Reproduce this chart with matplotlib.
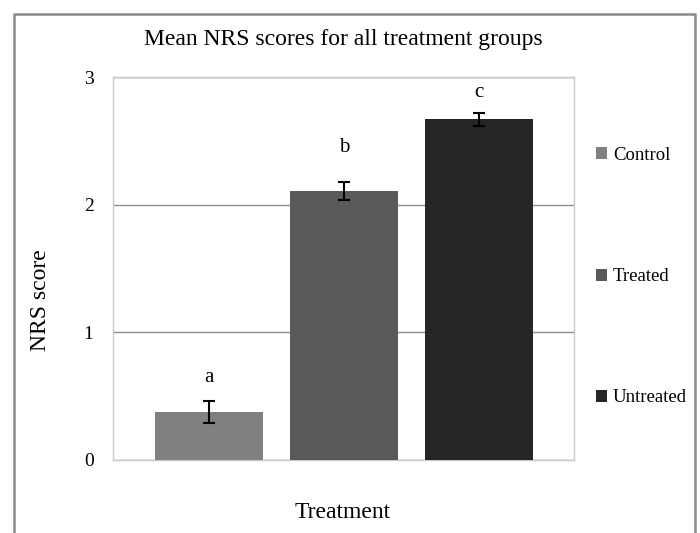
import numpy as np
import matplotlib.pyplot as plt
from matplotlib.lines import Line2D
from matplotlib.patches import Patch

groups = ['Control', 'Treated', 'Untreated']
means = [0.375, 2.11, 2.67]
errs = [0.085, 0.07, 0.05]
letters = ['a', 'b', 'c']
letter_y = [0.65, 2.45, 2.88]
colors = ['#808080', '#595959', '#262626']

plt.rcParams['font.family'] = ['Liberation Serif', 'DejaVu Serif']

fig = plt.figure(figsize=(7, 5.33), dpi=100)
W, H = 700, 533
ax = fig.add_axes([113 / W, 1 - 460 / H, (574 - 113) / W, (460 - 77) / H])

x = np.arange(len(groups))
for i in range(len(groups)):
    ax.bar(x[i], means[i], width=0.8, color=colors[i], label=groups[i], zorder=3)
    ax.errorbar(x[i], means[i], yerr=errs[i], color='black', capsize=4,
                elinewidth=1.5, capthick=1.5, zorder=4)
    ax.text(x[i], letter_y[i], letters[i], ha='center', va='center', fontsize=15)

ax.set_xlim(-0.71, 2.70)
ax.set_ylim(0, 3)
ax.set_yticks([0, 1, 2, 3])
ax.set_xticks([])
ax.tick_params(axis='y', length=0, labelsize=14, pad=14)
ax.grid(axis='y', color='#8c8c8c', linewidth=1, zorder=0)
for s in ax.spines.values():
    s.set_color('#c8c8c8')
    s.set_linewidth(1)

fig.text(343 / W, 1 - 40 / H, 'Mean NRS scores for all treatment groups',
         ha='center', va='center', fontsize=17)
fig.text(343 / W, 1 - 512 / H, 'Treatment', ha='center', va='center', fontsize=17)
fig.text(40 / W, 1 - 300 / H, 'NRS score', ha='center', va='center',
         rotation=90, fontsize=17)

handles = [Patch(facecolor=c, edgecolor='none') for c in colors]
fig.legend(handles, groups, loc='upper left', bbox_to_anchor=(596 / W, 1 - 147 / H),
           frameon=False, fontsize=13.5, handlelength=0.6, handleheight=0.6,
           handletextpad=0.3, labelspacing=5.56, borderaxespad=0, borderpad=0)

# outer chart frame (open at the bottom)
fig.add_artist(Line2D([14 / W, 14 / W, 695 / W, 695 / W],
                      [0, 1 - 14 / H, 1 - 14 / H, 0],
                      transform=fig.transFigure, color='#8a8a8a', linewidth=1.8))

fig.savefig('out.png', dpi=100)
